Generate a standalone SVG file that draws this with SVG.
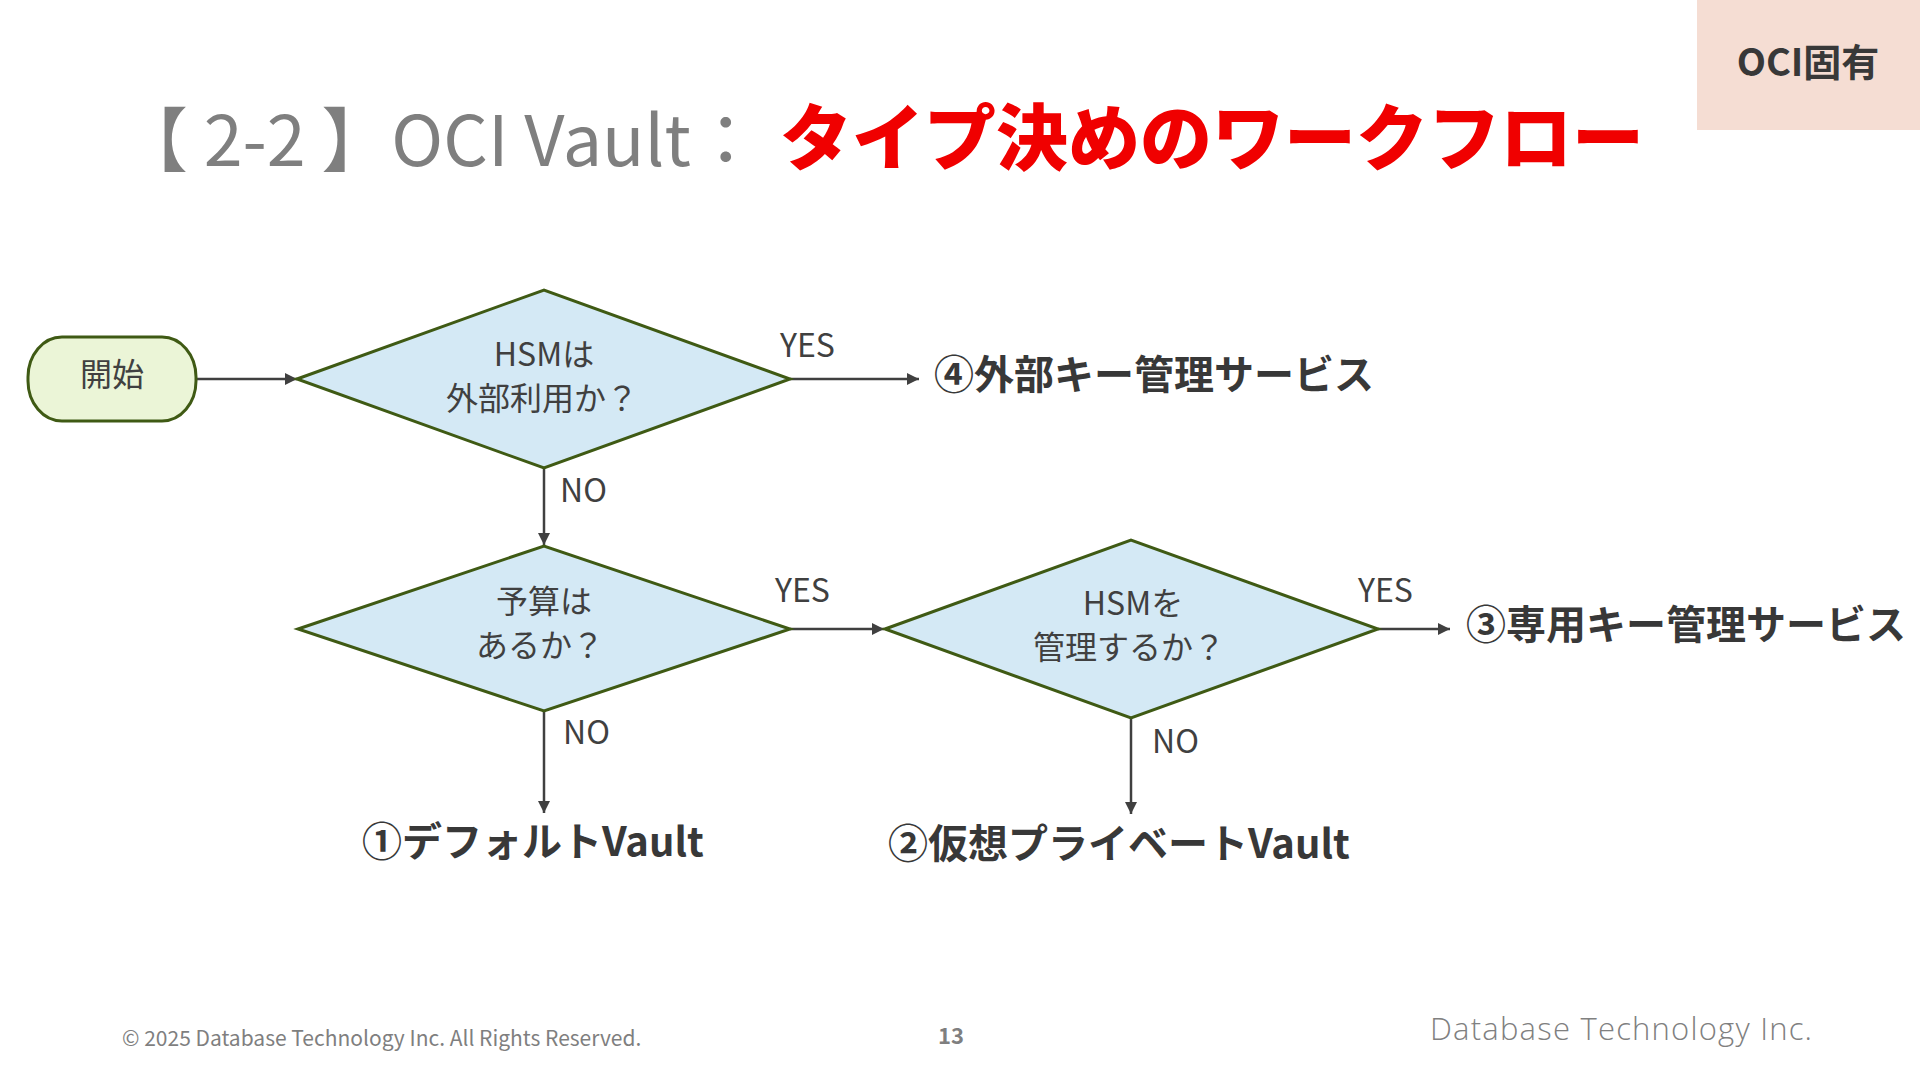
<svg xmlns="http://www.w3.org/2000/svg" width="1920" height="1080" viewBox="0 0 1920 1080">
<defs>
<marker id="arr" viewBox="0 0 10 10" refX="10" refY="5" markerWidth="5" markerHeight="5" markerUnits="strokeWidth" orient="auto">
<path d="M0,0 L10,5 L0,10 z" fill="#404040"/>
</marker>
<style>
.jp{font-family:"Noto Sans CJK JP","Noto Sans",sans-serif;}
.node{fill:#D4E9F5;stroke:#3F5A14;stroke-width:3;}
.term{fill:#EBF5D7;stroke:#3F5A14;stroke-width:3;}
.ntext{font-family:"Noto Sans CJK JP","Noto Sans",sans-serif;font-size:32px;fill:#404040;text-anchor:middle;}
.lbl{font-family:"Noto Sans CJK JP","Noto Sans",sans-serif;font-size:32px;fill:#404040;}
.res{font-family:"Noto Sans CJK JP","Noto Sans",sans-serif;font-size:40px;font-weight:700;fill:#383838;}
.conn{stroke:#404040;stroke-width:2.5;fill:none;marker-end:url(#arr);}
</style>
</defs>
<rect width="1920" height="1080" fill="#FFFFFF"/>

<g id="tag">
<rect x="1697" y="0" width="223" height="130" fill="#F5DDD3"/>
<text x="1808" y="76" class="jp" font-size="38" font-weight="700" fill="#383838" text-anchor="middle">OCI固有</text>
</g>

<g id="title">
<text x="118" y="166" class="jp" font-size="70" fill="#7F7F7F">【 2-2 】OCI Vault：</text>
<text x="780" y="164" class="jp" font-size="72" font-weight="900" fill="#F00000">タイプ決めのワークフロー</text>
</g>

<g id="connectors">
<line class="conn" x1="196" y1="379" x2="297" y2="379"/>
<line class="conn" x1="790" y1="379" x2="919" y2="379"/>
<line class="conn" x1="544" y1="468" x2="544" y2="545"/>
<line class="conn" x1="790" y1="629" x2="884" y2="629"/>
<line class="conn" x1="1378" y1="629" x2="1450" y2="629"/>
<line class="conn" x1="544" y1="711" x2="544" y2="813"/>
<line class="conn" x1="1131" y1="718" x2="1131" y2="814"/>
<text class="lbl" x="780" y="357">YES</text>
<text class="lbl" x="560" y="502">NO</text>
<text class="lbl" x="775" y="602">YES</text>
<text class="lbl" x="563" y="744">NO</text>
<text class="lbl" x="1358" y="602">YES</text>
<text class="lbl" x="1152" y="753">NO</text>
</g>

<g id="start">
<rect class="term" x="28" y="337" width="168" height="84" rx="34" ry="40"/>
<text class="ntext" x="112" y="386">開始</text>
</g>

<g id="d1">
<polygon class="node" points="297,379 544,290 790,379 544,468"/>
<text class="ntext" x="544" y="366">HSMは</text>
<text class="ntext" x="542" y="410">外部利用か？</text>
</g>

<g id="d2">
<polygon class="node" points="298,629 544,546 790,629 544,711"/>
<text class="ntext" x="544" y="613">予算は</text>
<text class="ntext" x="540" y="657">あるか？</text>
</g>

<g id="d3">
<polygon class="node" points="885,629 1131,540 1378,629 1131,718"/>
<text class="ntext" x="1133" y="615">HSMを</text>
<text class="ntext" x="1129" y="659">管理するか？</text>
</g>

<g id="r4"><text class="res" x="934" y="389">④外部キー管理サービス</text></g>
<g id="r3"><text class="res" x="1466" y="639">③専用キー管理サービス</text></g>
<g id="r1"><text class="res" x="362" y="856">①デフォルトVault</text></g>
<g id="r2"><text class="res" x="888" y="858">②仮想プライベートVault</text></g>

<g id="footer">
<text x="122" y="1046" class="jp" font-size="21" fill="#7F7F7F">© 2025 Database Technology Inc. All Rights Reserved.</text>
<text x="951" y="1044" class="jp" font-size="22" font-weight="700" fill="#7F7F7F" text-anchor="middle">13</text>
<text x="1430" y="1040" font-family="'Open Sans','Noto Sans',sans-serif" font-weight="300" font-size="31" fill="#808080" textLength="382" lengthAdjust="spacing">Database Technology Inc.</text>
</g>
</svg>
